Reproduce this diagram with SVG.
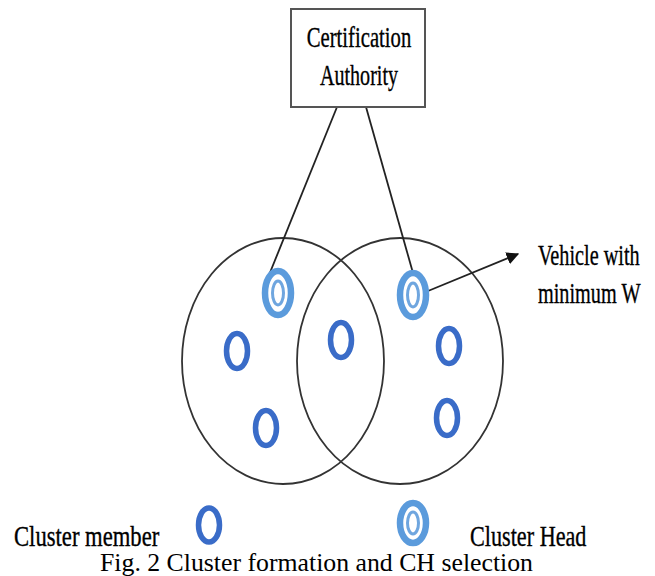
<svg xmlns="http://www.w3.org/2000/svg" width="655" height="576" viewBox="0 0 655 576">
<style>
  .t { font-family: "Liberation Serif", "Times New Roman", serif; fill: #000; font-size: 30px; stroke: #000; stroke-width: 0.35; }
  .cap { font-family: "Liberation Serif", "Times New Roman", serif; fill: #000; font-size: 25.5px; }
  .box { fill: #fff; stroke: #555; stroke-width: 2; }
  .cluster { fill: none; stroke: #333; stroke-width: 1.8; }
  .member { fill: none; stroke: #3a6cc8; stroke-width: 5.5; }
  .head-outer { fill: #fff; stroke: #5b9bdc; stroke-width: 6.5; }
  .head-inner { fill: none; stroke: #6fa6df; stroke-width: 3; }
  .link { stroke: #222; stroke-width: 1.8; fill: none; }
</style>
<defs>
  <marker id="arr" viewBox="0 0 10 10" refX="9" refY="5" markerWidth="7" markerHeight="7" orient="auto" markerUnits="strokeWidth">
    <path d="M0,0 L10,5 L0,10 z" fill="#111"/>
  </marker>
</defs>
<rect width="655" height="576" fill="#fff"/>

<g id="clusters">
  <ellipse class="cluster" cx="283" cy="361" rx="101" ry="123"/>
  <ellipse class="cluster" cx="400" cy="361" rx="103" ry="123"/>
</g>

<g id="connectors">
  <line class="link" x1="337" y1="107" x2="267" y2="280"/>
  <line class="link" x1="366" y1="107" x2="415" y2="280"/>
  <line class="link" x1="428" y1="291" x2="518" y2="254" marker-end="url(#arr)"/>
</g>

<g id="ca">
  <rect class="box" x="291" y="9" width="134" height="98"/>
  <text class="t" transform="translate(359,47) scale(0.69,1)" text-anchor="middle">Certification</text>
  <text class="t" transform="translate(359,85) scale(0.67,1)" text-anchor="middle">Authority</text>
</g>

<g id="ch-left">
  <ellipse class="head-outer" cx="278" cy="293" rx="13" ry="22"/>
  <ellipse class="head-inner" cx="278" cy="293" rx="5.5" ry="12"/>
</g>
<g id="ch-right">
  <ellipse class="head-outer" cx="413" cy="295" rx="13" ry="22"/>
  <ellipse class="head-inner" cx="413" cy="295" rx="5.5" ry="12"/>
</g>

<g id="m1"><ellipse class="member" cx="237" cy="351" rx="10.5" ry="17.5"/></g>
<g id="m2"><ellipse class="member" cx="266" cy="428" rx="10.5" ry="17.5"/></g>
<g id="m3"><ellipse class="member" cx="341" cy="340" rx="10.5" ry="17.5"/></g>
<g id="m4"><ellipse class="member" cx="449" cy="346" rx="10.5" ry="17.5"/></g>
<g id="m5"><ellipse class="member" cx="447" cy="418" rx="10.5" ry="17.5"/></g>

<g id="label-vehicle">
  <text class="t" transform="translate(538,265) scale(0.675,1)">Vehicle with</text>
  <text class="t" transform="translate(538,303) scale(0.675,1)">minimum W</text>
</g>

<g id="legend-member">
  <text class="t" transform="translate(14,546) scale(0.755,1)">Cluster member</text>
  <ellipse class="member" cx="209" cy="525" rx="10.5" ry="17"/>
</g>
<g id="legend-head">
  <ellipse class="head-outer" cx="413" cy="523" rx="13" ry="20"/>
  <ellipse class="head-inner" cx="413" cy="523" rx="5.5" ry="11"/>
  <text class="t" transform="translate(470,546) scale(0.74,1)">Cluster Head</text>
</g>

<g id="caption">
  <text class="cap" x="100" y="571" textLength="433" lengthAdjust="spacingAndGlyphs">Fig. 2 Cluster formation and CH selection</text>
</g>
</svg>
